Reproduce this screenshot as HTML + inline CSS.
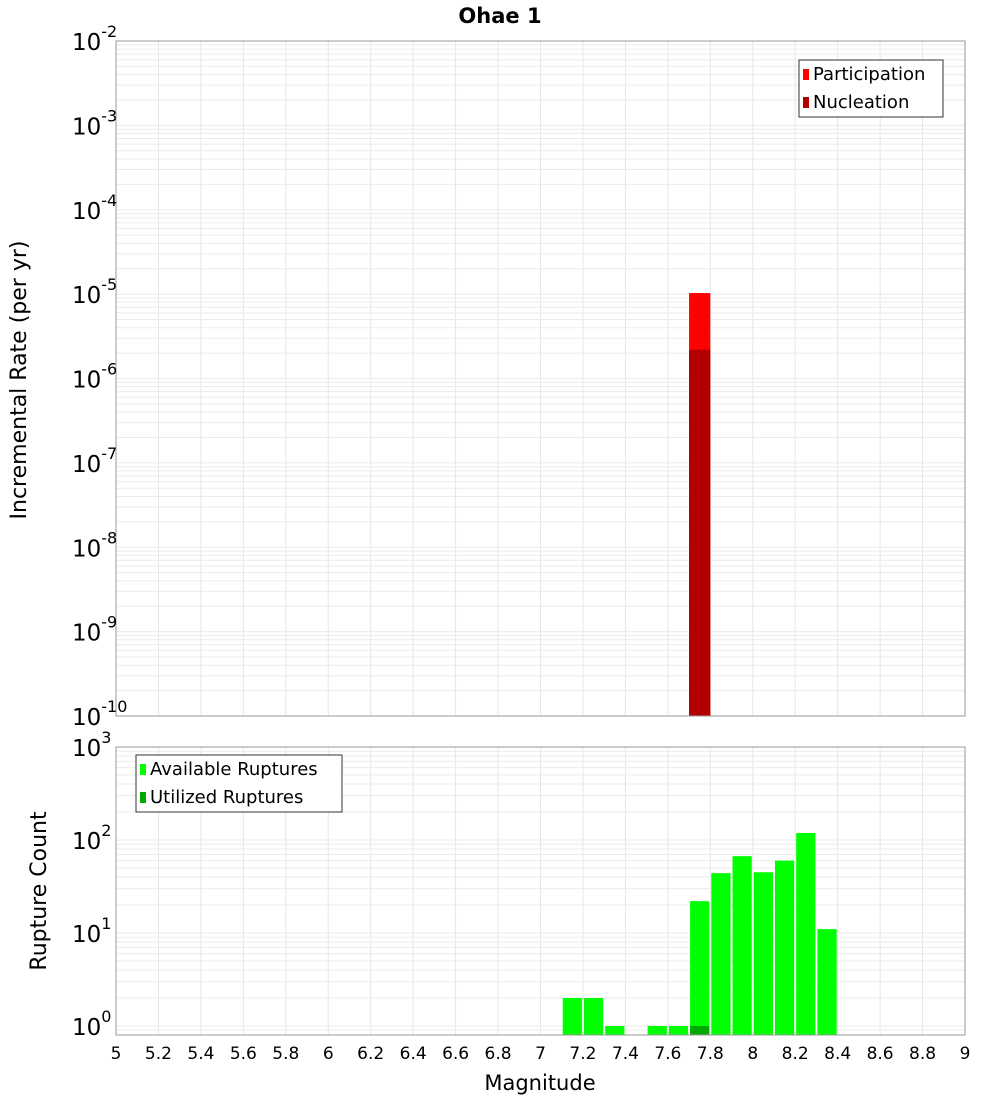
<!DOCTYPE html>
<html><head><meta charset="utf-8"><style>
body{margin:0;background:#fff;font-family:"DejaVu Sans","Liberation Sans",sans-serif}
svg text{font-family:"DejaVu Sans","Liberation Sans",sans-serif}
</style></head><body>
<svg id="c" width="1000" height="1100" xmlns="http://www.w3.org/2000/svg"></svg>
<script>
const xTicks=[5,5.2,5.4,5.6,5.8,6,6.2,6.4,6.6,6.8,7,7.2,7.4,7.6,7.8,8,8.2,8.4,8.6,8.8,9];
const rateBins=[7.75];
const participation=[1.03e-5];
const nucleation=[2.2e-6];
const countBins=[7.15,7.25,7.35,7.55,7.65,7.75,7.85,7.95,8.05,8.15,8.25,8.35];
const available=[2,2,1,1,1,22,44,67,45,60,119,11];
const utilizedBins=[7.75];
const utilized=[1];
const topExps=[-2,-3,-4,-5,-6,-7,-8,-9,-10];
const botExps=[3,2,1,0];

const NS="http://www.w3.org/2000/svg",svg=document.getElementById('c');
function el(t,a,p){const e=document.createElementNS(NS,t);for(const k in a)e.setAttribute(k,a[k]);(p||svg).appendChild(e);return e;}
const X0=116,X1=965;
const x=v=>X0+(v-5)/4*(X1-X0);
const T0=41,T1=716;
const yTop=v=>T0+(-2-Math.log10(v))/8*(T1-T0);
const B0=747,B1=1035,BPD=93;
const yBot=v=>B0+(3-Math.log10(v))*BPD;
const bw=x(5.1)-x(5);

function grid(y0,y1,yf,eMin,eMax,name){
  const g=el('g',{});
  for(const t of xTicks){el('line',{x1:x(t),x2:x(t),y1:y0,y2:y1,stroke:'#e6e6e6'},g);}
  for(let e=eMin;e<eMax;e++)for(let m=1;m<10;m++){const yy=yf(m*Math.pow(10,e));if(yy>=y0&&yy<=y1)el('line',{x1:X0,x2:X1,y1:yy,y2:yy,stroke:'#ebebeb'},g);}
}
grid(T0,T1,yTop,-10,-2,'top-grid');
grid(B0,B1,yBot,-1,3,'bottom-grid');

// top bars
participation.forEach((v,i)=>{const r=el('rect',{x:x(rateBins[i]-0.05),y:yTop(v),width:bw,height:T1-yTop(v),fill:'#ff0000'});
});
nucleation.forEach((v,i)=>{const r=el('rect',{x:x(rateBins[i]-0.05),y:yTop(v),width:bw,height:T1-yTop(v),fill:'#b20000'});
});
// bottom bars
available.forEach((v,i)=>{const r=el('rect',{x:x(countBins[i]-0.05)+1,y:yBot(v),width:bw-2,height:B1-yBot(v),fill:'#00ff00'});
});
utilized.forEach((v,i)=>{const r=el('rect',{x:x(utilizedBins[i]-0.05)+1,y:yBot(v),width:bw-2,height:B1-yBot(v),fill:'#00aa00'});
});

el('rect',{x:X0,y:T0,width:X1-X0,height:T1-T0,fill:'none',stroke:'#999'});
el('rect',{x:X0,y:B0,width:X1-X0,height:B1-B0,fill:'none',stroke:'#999'});

function tickLabel(yy,e,name){const t=el('text',{x:72,y:yy+9,'font-size':23,fill:'#000'});
 t.textContent='10';const s=el('tspan',{dy:-13,'font-size':16},t);s.textContent=String(e);}
topExps.forEach(e=>tickLabel(yTop(Math.pow(10,e)),e,'y-tick-top'));
botExps.forEach(e=>tickLabel(yBot(Math.pow(10,e)),e,'y-tick-bottom'));
xTicks.forEach(t=>{const l=el('text',{x:x(t),y:1059,'font-size':17,'text-anchor':'middle'});l.textContent=String(t);});

let t=el('text',{x:500,y:23,'font-size':21,'font-weight':'bold','text-anchor':'middle'});t.textContent='Ohae 1';
t=el('text',{x:540,y:1090,'font-size':21,'text-anchor':'middle'});t.textContent='Magnitude';
t=el('text',{x:0,y:0,'font-size':22,'text-anchor':'middle',transform:'translate(26,380) rotate(-90)'});t.textContent='Incremental Rate (per yr)';
t=el('text',{x:0,y:0,'font-size':22,'text-anchor':'middle',transform:'translate(46,891) rotate(-90)'});t.textContent='Rupture Count';

function legend(bx,by,w,items,name){const g=el('g',{});
 el('rect',{x:bx,y:by,width:w,height:57,fill:'#fff',stroke:'#333'},g);
 items.forEach((it,i)=>{el('rect',{x:bx+4,y:by+9+i*28,width:6,height:11,fill:it[1]},g);const tx=el('text',{x:bx+14,y:by+20+i*28,'font-size':18},g);tx.textContent=it[0];});}
legend(799,60,144,[['Participation','#ff0000'],['Nucleation','#b20000']],'top-legend');
legend(136,755,206,[['Available Ruptures','#00ff00'],['Utilized Ruptures','#00aa00']],'bottom-legend');
</script>
</body></html>
